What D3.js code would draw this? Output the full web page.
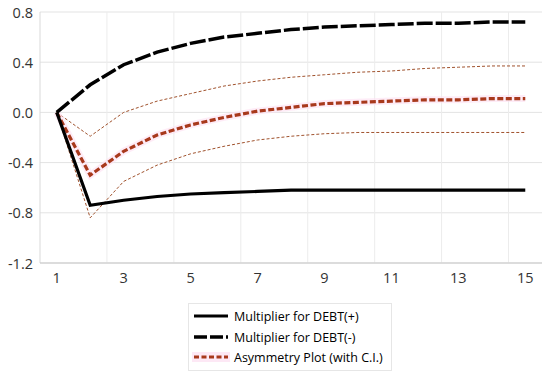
<!DOCTYPE html>
<html><head><meta charset="utf-8">
<script src="https://cdn.jsdelivr.net/npm/d3@7"></script>
<style>body{margin:0;background:#fff}svg{display:block}</style>
</head><body>
<svg id="c" width="550" height="376"></svg>
<script>
const periods = [1,2,3,4,5,6,7,8,9,10,11,12,13,14,15];
const debtPos = [0,-0.74,-0.70,-0.67,-0.65,-0.64,-0.63,-0.62,-0.62,-0.62,-0.62,-0.62,-0.62,-0.62,-0.62];
const debtNeg = [0,0.22,0.38,0.48,0.55,0.60,0.63,0.66,0.68,0.69,0.70,0.71,0.71,0.72,0.72];
const asym = [0,-0.50,-0.31,-0.18,-0.10,-0.04,0.01,0.04,0.07,0.08,0.09,0.10,0.10,0.11,0.11];
const ciUpper = [0,-0.19,0.00,0.09,0.15,0.21,0.25,0.28,0.30,0.32,0.33,0.35,0.36,0.37,0.37];
const ciLower = [0,-0.84,-0.55,-0.42,-0.33,-0.27,-0.22,-0.19,-0.17,-0.16,-0.16,-0.16,-0.16,-0.16,-0.16];
const yTicks = [0.8,0.4,0.0,-0.4,-0.8,-1.2];
const xTickLabels = [1,3,5,7,9,11,13,15];
const legendLabels = ["Multiplier for DEBT(+)","Multiplier for DEBT(-)","Asymmetry Plot (with C.I.)"];

const svg = d3.select("#c");
const L = 40, R = 542, T = 12, B = 263;
const x = d3.scaleBand().domain(periods).range([L, R]);
const y = d3.scaleLinear().domain([-1.2, 0.8]).range([B, T]);
const cx = d => x(d) + x.bandwidth()/2;
const font = "'Open Sans', 'Liberation Sans', sans-serif";

svg.append("g").selectAll("line").data(yTicks).join("line")
  .attr("x1", L).attr("x2", R).attr("y1", d=>y(d)).attr("y2", d=>y(d))
  .attr("stroke", "#e3e3e3").attr("stroke-width", 1);
const vb = [2,4,6,8,10,12,14].map(p => x(p) + x.bandwidth());
svg.append("g").selectAll("line").data(vb).join("line")
  .attr("x1", d=>d).attr("x2", d=>d).attr("y1", T).attr("y2", B)
  .attr("stroke", "#ececec").attr("stroke-width", 1);
svg.append("line").attr("x1", L).attr("x2", L).attr("y1", T).attr("y2", B).attr("stroke", "#d9d9d9");
svg.append("line").attr("x1", L).attr("x2", R).attr("y1", B).attr("y2", B).attr("stroke", "#c8c8c8").attr("stroke-width", 1.2);

svg.append("g").selectAll("text").data(yTicks).join("text")
  .attr("x", 33).attr("y", d=>y(d)+5.5).attr("text-anchor", "end")
  .attr("font-family", font).attr("font-size", 14.5).attr("fill", "#333")
  .text(d => d3.format(".1f")(d).replace("−","-"));
svg.append("g").selectAll("text").data(xTickLabels).join("text")
  .attr("x", d=>cx(d)).attr("y", 283).attr("text-anchor", "middle")
  .attr("font-family", font).attr("font-size", 14.5).attr("fill", "#333")
  .text(d=>d);

const line = d3.line().x((d,i)=>cx(periods[i])).y(d=>y(d));

[ciUpper, ciLower].forEach(s => {
  svg.append("path").attr("d", line(s)).attr("fill","none")
    .attr("stroke","#a0522d").attr("stroke-width",1).attr("stroke-dasharray","3,2");
});
svg.append("path").attr("d", line(asym)).attr("fill","none")
  .attr("stroke","#fde0f2").attr("stroke-width",7).attr("opacity",0.6);
svg.append("path").attr("d", line(asym)).attr("fill","none")
  .attr("stroke","#a8391c").attr("stroke-width",3.2).attr("stroke-dasharray","6,2.5");
svg.append("path").attr("d", line(debtNeg)).attr("fill","none")
  .attr("stroke","#000").attr("stroke-width",3.5).attr("stroke-dasharray","16,3");
svg.append("path").attr("d", line(debtPos)).attr("fill","none")
  .attr("stroke","#000").attr("stroke-width",3.2);

const lg = svg.append("g");
lg.append("rect").attr("x",188.5).attr("y",303.5).attr("width",203).attr("height",67)
  .attr("fill","#fff").attr("stroke","#e6e6e6");
const ly = [316, 337, 357];
const styles = [
  {c:"#000", w:3.2, d:null},
  {c:"#000", w:3.5, d:"13,3"},
  {c:"#a8391c", w:3, d:"5,2.5"}
];
legendLabels.forEach((t,i)=>{
  if(i===2) lg.append("rect").attr("x",192).attr("y",ly[i]-5).attr("width",38).attr("height",10).attr("fill","#fde8f5");
  lg.append("line").attr("x1",194).attr("x2",228).attr("y1",ly[i]).attr("y2",ly[i])
    .attr("stroke",styles[i].c).attr("stroke-width",styles[i].w).attr("stroke-dasharray",styles[i].d);
  lg.append("text").attr("x",234).attr("y",ly[i]+4.5).attr("font-family",font).attr("font-size",12.5)
    .attr("fill","#000").text(t);
});
</script>
</body></html>
